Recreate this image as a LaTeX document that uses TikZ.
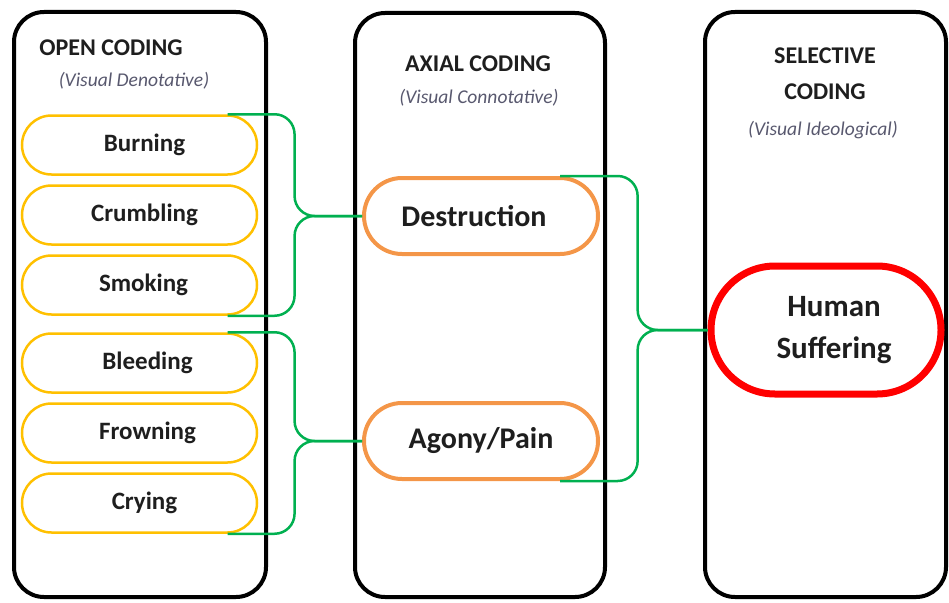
\documentclass[tikz,border=0pt]{standalone}
\usepackage{fontspec}
\setmainfont{Carlito}
\usetikzlibrary{positioning, calc, shapes.misc}
\definecolor{codeYellow}{RGB}{255,192,0}
\definecolor{codeOrange}{RGB}{244,150,72}
\definecolor{codeRed}{RGB}{255,0,0}
\definecolor{braceGreen}{RGB}{0,176,80}
\definecolor{noteGray}{RGB}{88,88,110}
\definecolor{inkDark}{RGB}{30,30,30}

\begin{document}
\begin{tikzpicture}[
      x=1pt, y=-1pt,
      node distance=8.5pt,
      column/.style={draw=black, line width=4pt, rounded corners=30pt},
      head/.style={font=\bfseries\fontsize{24}{36}\selectfont, text=inkDark, align=center},
      note/.style={font=\itshape\fontsize{19.5}{22}\selectfont, text=noteGray},
      code/.style={rounded rectangle, draw=codeYellow, line width=2.5pt, inner sep=0pt,
        minimum width=235pt, minimum height=59pt, text=inkDark,
        font=\bfseries\fontsize{25}{30}\selectfont},
      axis/.style={code, draw=codeOrange, line width=4pt,
        minimum width=234pt, minimum height=76pt, font=\bfseries\fontsize{30}{36}\selectfont},
      core/.style={code, draw=codeRed, line width=7pt, align=center,
        minimum width=230pt, minimum height=128pt, font=\bfseries\fontsize{31}{42}\selectfont},
      brace/.style={braceGreen, line width=2.5pt, rounded corners=20pt}
    ]
    \useasboundingbox (0,0) rectangle (949,602);

    % the three coding columns
    \draw[column] (14,12) rectangle (266,597);
    \draw[column] (355,13) rectangle (605,597);
    \draw[column] (705,12) rectangle (946,597);

    \node[head] (openT) at (111,47.5) {OPEN CODING};
    \node[note] (openN) at (134,81) {(Visual Denotative)};
    \node[head] (axialT) at (478,64) {AXIAL CODING};
    \node[note] (axialN) at (479,98) {(Visual Connotative)};
    \node[head] (selT) at (825,74) {SELECTIVE\\CODING};
    \node[note] (selN) at (823,130) {(Visual Ideological)};

    % open codes
    \node[code] (burn) at (139.5,145) {\hspace*{10pt}Burning};
    \node[code, below=of burn] (crumble) {\hspace*{10pt}Crumbling};
    \node[code, below=of crumble] (smoke) {\hspace*{8pt}Smoking};
    \node[code, below=16.5pt of smoke] (bleed) {\hspace*{16pt}Bleeding};
    \node[code, below=of bleed] (frown) {\hspace*{16pt}Frowning};
    \node[code, below=of frown] (cry) {\hspace*{10pt}Crying};

    % axial codes
    \node[axis] (destr) at (481,216) {Destruction\hspace*{14pt}};
    \node[axis] (agony) at (481,441) {Agony/Pain};

    % selective code
    \node[core] (human) at (826,330) {\hspace*{16pt}Human\\\hspace*{16pt}Suffering};

    \coordinate (k1) at ($(burn.east)!.35!(destr.west)$);
    \coordinate (k2) at ($(bleed.east)!.35!(agony.west)$);
    \coordinate (k3) at ($(destr.east)!.35!(human.west)$);

    \draw[brace] (burn.north east) -| (k1 |- destr.west) -- (destr.west);
    \draw[brace] (smoke.south east) -| (k1 |- destr.west) -- (destr.west);
    \draw[brace] (bleed.north east) -| (k2 |- agony.west) -- (agony.west);
    \draw[brace] (cry.south east) -| (k2 |- agony.west) -- (agony.west);
    \draw[brace] (destr.north east) -| (k3 |- human.west) -- (human.west);
    \draw[brace] (agony.south east) -| (k3 |- human.west) -- (human.west);
  \end{tikzpicture}
\end{document}
